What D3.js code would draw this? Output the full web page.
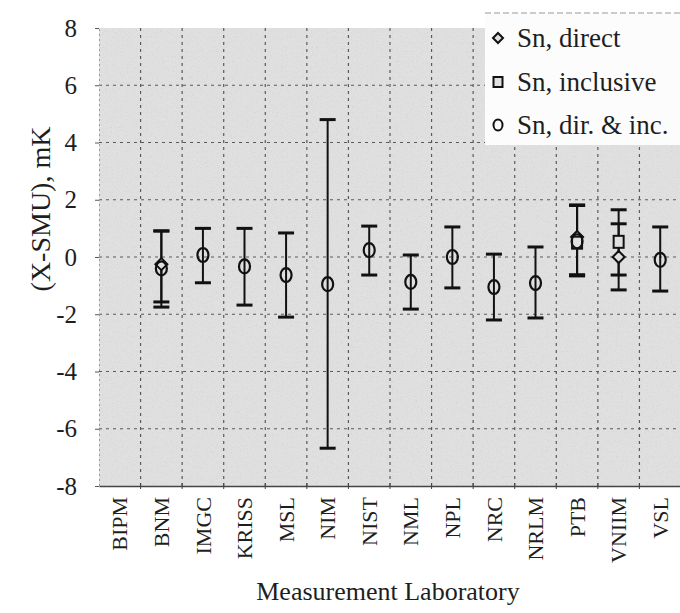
<!DOCTYPE html>
<html lang="en">
<head>
<meta charset="utf-8">
<title>Sn deviations from SMU</title>
<script src="https://cdn.jsdelivr.net/npm/d3@7"></script>
<style>
  * { margin: 0; padding: 0; }
  body { background: #fff; width: 680px; height: 613px; overflow: hidden; }
  svg text { font-family: "Liberation Serif", "DejaVu Serif", serif !important; fill: #1e1e1e; }
</style>
</head>
<body>
<svg id="chart" width="680" height="613"></svg>
<script>
// laboratories on the x axis
const labs = ["BIPM", "BNM", "IMGC", "KRISS", "MSL", "NIM", "NIST", "NML", "NPL", "NRC", "NRLM", "PTB", "VNIIM", "VSL"];
const yTicks = [-8, -6, -4, -2, 0, 2, 4, 6, 8];

// Sn, direct (diamond): value, lower and upper end of bar
const directLab = ["BNM", "PTB", "VNIIM"];
const directVal = [-0.25, 0.7, 0.0];
const directLo = [-1.57, -0.66, -1.15];
const directHi = [0.91, 1.82, 1.16];

// Sn, inclusive (square)
const inclLab = ["PTB", "VNIIM"];
const inclVal = [0.5, 0.53];
const inclLo = [-0.62, -0.63];
const inclHi = [1.8, 1.65];

// Sn, dir. & inc. (circle)
const combLab = ["BNM", "IMGC", "KRISS", "MSL", "NIM", "NIST", "NML", "NPL", "NRC", "NRLM", "PTB", "VSL"];
const combVal = [-0.4, 0.07, -0.33, -0.63, -0.95, 0.24, -0.87, 0.0, -1.05, -0.91, 0.55, -0.1];
const combLo = [-1.75, -0.9, -1.68, -2.1, -6.68, -0.63, -1.82, -1.08, -2.2, -2.13, -0.64, -1.19];
const combHi = [0.91, 1.0, 1.0, 0.84, 4.8, 1.08, 0.07, 1.05, 0.1, 0.35, 1.8, 1.05];

const legendNames = ["Sn, direct", "Sn, inclusive", "Sn, dir. & inc."];

const svg = d3.select("#chart");
const pL = 99, pR = 681, pT = 28, pB = 486;

const x = d3.scaleBand().domain(labs).range([pL, pR]);
const y = d3.scaleLinear().domain([-8, 8]).range([pB, pT]);

// speckled scan-like background
const defs = svg.append("defs");
const f = defs.append("filter").attr("id", "grain").attr("x", 0).attr("y", 0).attr("width", 1).attr("height", 1);
f.append("feTurbulence").attr("type", "fractalNoise").attr("baseFrequency", 1.2).attr("numOctaves", 1).attr("seed", 3).attr("result", "n");
f.append("feColorMatrix").attr("in", "n").attr("type", "matrix")
  .attr("values", "0 0 0 0 0.55  0 0 0 0 0.55  0 0 0 0 0.55  0 0 0 1.4 -0.72");
f.append("feComposite").attr("in2", "SourceGraphic").attr("operator", "over");

svg.append("rect")
  .attr("x", pL).attr("y", pT)
  .attr("width", pR - pL).attr("height", pB - pT)
  .attr("fill", "#e0e0e0")
  .attr("filter", "url(#grain)");

// grid
const grid = svg.append("g").attr("stroke", "#5a5a5a").attr("stroke-width", 1.2).attr("stroke-dasharray", "3,4");
grid.selectAll("line.h")
  .data(yTicks.filter(d => d > -8 && d < 8))
  .join("line").attr("class", "h")
  .attr("x1", pL).attr("x2", pR)
  .attr("y1", d => y(d)).attr("y2", d => y(d));
grid.selectAll("line.v")
  .data(labs.slice(1))
  .join("line").attr("class", "v")
  .attr("x1", d => x(d)).attr("x2", d => x(d))
  .attr("y1", pT).attr("y2", pB);

// y axis
const yAxis = svg.append("g")
  .attr("transform", `translate(${pL},0)`)
  .call(d3.axisLeft(y).tickValues(yTicks).tickSize(4).tickPadding(18).tickFormat(d => String(d)));
yAxis.select(".domain").attr("stroke", "#999").attr("stroke-dasharray", "2,3");
yAxis.selectAll(".tick line").attr("stroke", "#555");
yAxis.selectAll("text").attr("font-size", 25);

// x axis
const xAxis = svg.append("g")
  .attr("transform", `translate(0,${pB})`)
  .call(d3.axisBottom(x).tickSize(0).tickPadding(0));
xAxis.select(".domain").attr("stroke", "#444").attr("stroke-width", 1.5);
xAxis.selectAll(".tick text")
  .attr("font-size", 22)
  .attr("text-anchor", "end")
  .attr("transform", "translate(0,11) rotate(-90)")
  .attr("dx", 0).attr("dy", "0.35em").attr("x", 0).attr("y", 0);
xAxis.selectAll("line.bt")
  .data(labs.slice(1))
  .join("line").attr("class", "bt")
  .attr("x1", d => x(d)).attr("x2", d => x(d))
  .attr("y1", -3).attr("y2", 3)
  .attr("stroke", "#444");

// error bars + markers
const cx = d => x(d) + x.bandwidth() / 2;
function bars(labList, lo, hi) {
  const g = svg.append("g").attr("stroke", "#111").attr("stroke-width", 2).attr("fill", "none");
  labList.forEach((lab, i) => {
    const c = cx(lab);
    g.append("line").attr("x1", c).attr("x2", c).attr("y1", y(lo[i])).attr("y2", y(hi[i]));
    g.append("line").attr("x1", c - 8).attr("x2", c + 8).attr("y1", y(lo[i])).attr("y2", y(lo[i])).attr("stroke-width", 3);
    g.append("line").attr("x1", c - 8).attr("x2", c + 8).attr("y1", y(hi[i])).attr("y2", y(hi[i])).attr("stroke-width", 3);
  });
}
bars(directLab, directLo, directHi);
bars(inclLab, inclLo, inclHi);
bars(combLab, combLo, combHi);

function diamond(g, px, py, s) {
  g.append("path")
    .attr("d", `M${px},${py - s}L${px + s},${py}L${px},${py + s}L${px - s},${py}Z`)
    .attr("fill", "#e0e0e0").attr("stroke", "#111").attr("stroke-width", 2);
}
function square(g, px, py, w, h) {
  g.append("rect").attr("x", px - w / 2).attr("y", py - h / 2).attr("width", w).attr("height", h)
    .attr("fill", "#e0e0e0").attr("stroke", "#111").attr("stroke-width", 2);
}
function ring(g, px, py, rx, ry) {
  g.append("ellipse").attr("cx", px).attr("cy", py).attr("rx", rx).attr("ry", ry)
    .attr("fill", "none").attr("stroke", "#111").attr("stroke-width", 2.2);
}

const marks = svg.append("g");
directLab.forEach((lab, i) => diamond(marks, cx(lab), y(directVal[i]), 6));
inclLab.forEach((lab, i) => square(marks, cx(lab), y(inclVal[i]), 10, 12));
combLab.forEach((lab, i) => ring(marks, cx(lab), y(combVal[i]), 5.5, 7));

// legend
const lg = svg.append("g");
lg.append("rect").attr("x", 485).attr("y", 13).attr("width", 200).attr("height", 132).attr("fill", "#fcfcfc");
lg.append("line").attr("x1", 485).attr("x2", 680).attr("y1", 13).attr("y2", 13)
  .attr("stroke", "#999").attr("stroke-dasharray", "6,3");
const ly = [38, 82, 125];
diamond(lg, 498, ly[0], 5);
square(lg, 498, ly[1], 9, 10);
lg.append("ellipse").attr("cx", 498).attr("cy", ly[2]).attr("rx", 4.5).attr("ry", 5.5)
  .attr("fill", "none").attr("stroke", "#111").attr("stroke-width", 2);
lg.selectAll("text")
  .data(legendNames)
  .join("text")
  .attr("x", 517).attr("y", (d, i) => ly[i] + 9)
  .attr("font-size", 27)
  .text(d => d);

// axis titles
svg.append("text")
  .attr("transform", "translate(40,209) rotate(-90)")
  .attr("text-anchor", "middle").attr("dy", "0.35em")
  .attr("font-size", 28)
  .text("(X-SMU), mK");
svg.append("text")
  .attr("x", 388).attr("y", 600)
  .attr("text-anchor", "middle")
  .attr("font-size", 26)
  .text("Measurement Laboratory");
</script>
</body>
</html>
